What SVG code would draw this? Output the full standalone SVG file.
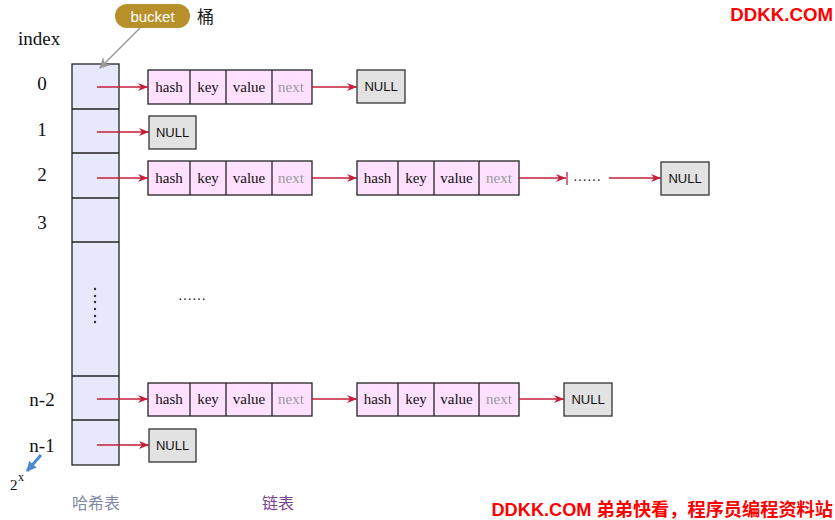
<svg xmlns="http://www.w3.org/2000/svg" width="835" height="520" viewBox="0 0 835 520">
<defs>
<marker id="ah" viewBox="0 0 10 10" refX="10" refY="5" markerWidth="10" markerHeight="10" markerUnits="userSpaceOnUse" orient="auto">
<path d="M0,1 L10,5 L0,9 L3,5 Z" fill="#c41e3a"/>
</marker>
<marker id="gh" viewBox="0 0 10 10" refX="9" refY="5" markerWidth="11" markerHeight="11" markerUnits="userSpaceOnUse" orient="auto">
<path d="M0,0 L10,5 L0,10 L3,5 Z" fill="#999"/>
</marker>
<marker id="bh" viewBox="0 0 10 10" refX="9" refY="5" markerWidth="10" markerHeight="10" markerUnits="userSpaceOnUse" orient="auto">
<path d="M0,0 L10,5 L0,10 Z" fill="#4a8ad0"/>
</marker>
</defs>
<style>
.serif{font-family:"Liberation Serif","Noto Sans CJK SC",serif}
.idx{font-size:19px;fill:#111}
.cell{fill:#ffe0ff;stroke:#222;stroke-width:1.3}
.tbl{fill:#e8e8fc;stroke:#222;stroke-width:1.3}
.nul{fill:#e2e2e2;stroke:#333;stroke-width:1.3}
.ct{font-family:"Liberation Serif",serif;font-size:15px;fill:#111;text-anchor:middle}
.nx{fill:#999}
.nt{font-family:"Liberation Sans",Arial,sans-serif;font-size:13px;fill:#111;text-anchor:middle}
.ar{stroke:#c41e3a;stroke-width:1.3;fill:none;marker-end:url(#ah)}
.red{font-family:"Liberation Sans","Noto Sans CJK SC",sans-serif;font-weight:bold;fill:#ff0000}
</style>
<rect width="835" height="520" fill="#fff"/>

<g id="table">
<rect class="tbl" x="72" y="64" width="47" height="401"/>
<line x1="72" y1="109" x2="119" y2="109" stroke="#222" stroke-width="1.3"/>
<line x1="72" y1="153" x2="119" y2="153" stroke="#222" stroke-width="1.3"/>
<line x1="72" y1="198" x2="119" y2="198" stroke="#222" stroke-width="1.3"/>
<line x1="72" y1="242" x2="119" y2="242" stroke="#222" stroke-width="1.3"/>
<line x1="72" y1="376" x2="119" y2="376" stroke="#222" stroke-width="1.3"/>
<line x1="72" y1="420" x2="119" y2="420" stroke="#222" stroke-width="1.3"/>
<g fill="#333">
<circle cx="95" cy="289" r="1.2"/><circle cx="95" cy="296" r="1.2"/><circle cx="95" cy="302" r="1.2"/><circle cx="95" cy="309" r="1.2"/><circle cx="95" cy="316" r="1.2"/><circle cx="95" cy="322" r="1.2"/>
</g>
</g>

<g id="index-labels" class="serif idx">
<text x="18" y="45">index</text>
<text x="42" y="90" text-anchor="middle">0</text>
<text x="42" y="136" text-anchor="middle">1</text>
<text x="42" y="181" text-anchor="middle">2</text>
<text x="42" y="229" text-anchor="middle">3</text>
<text x="42" y="406" text-anchor="middle">n-2</text>
<text x="42" y="452" text-anchor="middle">n-1</text>
</g>

<g id="bucket">
<rect x="115" y="4" width="75" height="24" rx="12" fill="#b8902a"/>
<text x="152.5" y="21.5" text-anchor="middle" font-family="Liberation Sans,sans-serif" font-size="15" fill="#fff">bucket</text>
<text x="197" y="23" font-family="Noto Sans CJK SC,sans-serif" font-size="17" fill="#222">桶</text>
</g>

<g id="pow">
<text x="10" y="490" class="serif" font-size="15" fill="#111">2</text>
<text x="18" y="481" class="serif" font-size="12" fill="#111">x</text>
</g>

<g id="captions">
<text x="96" y="509" text-anchor="middle" font-family="Noto Sans CJK SC,sans-serif" font-size="16" fill="#8088a8">哈希表</text>
<text x="278" y="509" text-anchor="middle" font-family="Noto Sans CJK SC,sans-serif" font-size="16" fill="#7a3f8a">链表</text>
</g>

<g id="entry-0a">
<rect class="cell" x="148" y="70" width="164" height="34"/>
<line x1="190" y1="70" x2="190" y2="104" stroke="#222" stroke-width="1.3"/>
<line x1="226" y1="70" x2="226" y2="104" stroke="#222" stroke-width="1.3"/>
<line x1="272" y1="70" x2="272" y2="104" stroke="#222" stroke-width="1.3"/>
<text class="ct" x="169" y="92">hash</text><text class="ct" x="208" y="92">key</text><text class="ct" x="249" y="92">value</text><text class="ct nx" x="291" y="92">next</text>
</g>
<g id="null-0"><rect class="nul" x="357" y="70" width="48" height="33"/><text class="nt" x="381" y="91">NULL</text></g>

<g id="null-1"><rect class="nul" x="149" y="116" width="47" height="33"/><text class="nt" x="172.5" y="137">NULL</text></g>

<g id="entry-2a">
<rect class="cell" x="148" y="161" width="164" height="34"/>
<line x1="190" y1="161" x2="190" y2="195" stroke="#222" stroke-width="1.3"/>
<line x1="226" y1="161" x2="226" y2="195" stroke="#222" stroke-width="1.3"/>
<line x1="272" y1="161" x2="272" y2="195" stroke="#222" stroke-width="1.3"/>
<text class="ct" x="169" y="183">hash</text><text class="ct" x="208" y="183">key</text><text class="ct" x="249" y="183">value</text><text class="ct nx" x="291" y="183">next</text>
</g>
<g id="entry-2b">
<rect class="cell" x="357" y="161" width="162" height="34"/>
<line x1="398" y1="161" x2="398" y2="195" stroke="#222" stroke-width="1.3"/>
<line x1="434" y1="161" x2="434" y2="195" stroke="#222" stroke-width="1.3"/>
<line x1="479" y1="161" x2="479" y2="195" stroke="#222" stroke-width="1.3"/>
<text class="ct" x="377.5" y="183">hash</text><text class="ct" x="416" y="183">key</text><text class="ct" x="456.5" y="183">value</text><text class="ct nx" x="499" y="183">next</text>
</g>
<g id="dots-2"><text x="573" y="181" font-family="Liberation Serif,serif" font-size="14" fill="#222">……</text></g>
<g id="null-2"><rect class="nul" x="661" y="162" width="48" height="33"/><text class="nt" x="685" y="183">NULL</text></g>

<g id="dots-mid"><text x="178" y="300" font-family="Liberation Serif,serif" font-size="14" fill="#222">……</text></g>

<g id="entry-n2a">
<rect class="cell" x="148" y="383" width="164" height="33"/>
<line x1="190" y1="383" x2="190" y2="416" stroke="#222" stroke-width="1.3"/>
<line x1="226" y1="383" x2="226" y2="416" stroke="#222" stroke-width="1.3"/>
<line x1="272" y1="383" x2="272" y2="416" stroke="#222" stroke-width="1.3"/>
<text class="ct" x="169" y="404">hash</text><text class="ct" x="208" y="404">key</text><text class="ct" x="249" y="404">value</text><text class="ct nx" x="291" y="404">next</text>
</g>
<g id="entry-n2b">
<rect class="cell" x="357" y="383" width="162" height="33"/>
<line x1="398" y1="383" x2="398" y2="416" stroke="#222" stroke-width="1.3"/>
<line x1="434" y1="383" x2="434" y2="416" stroke="#222" stroke-width="1.3"/>
<line x1="479" y1="383" x2="479" y2="416" stroke="#222" stroke-width="1.3"/>
<text class="ct" x="377.5" y="404">hash</text><text class="ct" x="416" y="404">key</text><text class="ct" x="456.5" y="404">value</text><text class="ct nx" x="499" y="404">next</text>
</g>
<g id="null-n2"><rect class="nul" x="564" y="383" width="48" height="33"/><text class="nt" x="588" y="404">NULL</text></g>

<g id="null-n1"><rect class="nul" x="149" y="429" width="47" height="33"/><text class="nt" x="172.5" y="450">NULL</text></g>

<g id="connectors">
<line class="ar" x1="97" y1="87" x2="148" y2="87"/>
<line class="ar" x1="97" y1="132" x2="149" y2="132"/>
<line class="ar" x1="97" y1="178" x2="148" y2="178"/>
<line class="ar" x1="97" y1="399" x2="148" y2="399"/>
<line class="ar" x1="97" y1="445" x2="149" y2="445"/>
<line class="ar" x1="312" y1="87" x2="357" y2="87"/>
<line class="ar" x1="312" y1="178" x2="357" y2="178"/>
<line class="ar" x1="312" y1="399" x2="357" y2="399"/>
<line class="ar" x1="519" y1="178" x2="566" y2="178"/>
<line x1="567" y1="172" x2="567" y2="185" stroke="#c41e3a" stroke-width="1.3"/>
<line class="ar" x1="609" y1="178" x2="661" y2="178"/>
<line class="ar" x1="519" y1="399" x2="564" y2="399"/>
<line x1="140" y1="28" x2="100" y2="68" stroke="#999" stroke-width="1.5" marker-end="url(#gh)"/>
<line x1="41" y1="455" x2="27" y2="471" stroke="#4a8ad0" stroke-width="3" marker-end="url(#bh)"/>
</g>

<g id="watermarks">
<text class="red" x="833" y="21" text-anchor="end" font-size="18.7">DDKK.COM</text>
<text class="red" x="833" y="516" text-anchor="end" font-size="18.2">DDKK.COM 弟弟快看，程序员编程资料站</text>
</g>
</svg>
